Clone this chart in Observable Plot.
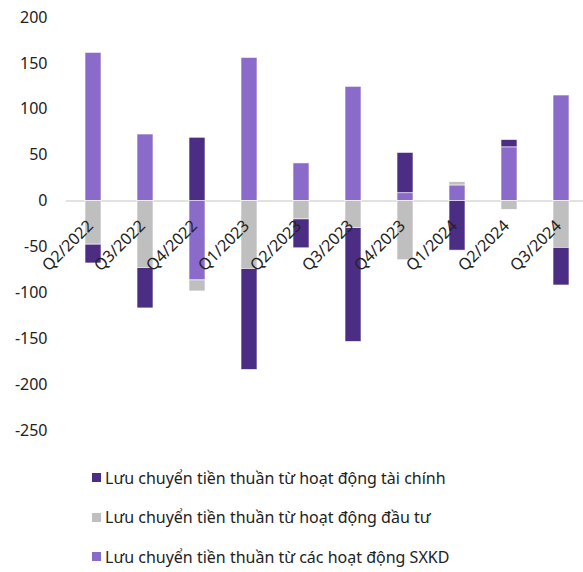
<!DOCTYPE html>
<html>
<head>
<meta charset="utf-8">
<script src="https://cdn.jsdelivr.net/npm/d3@7"></script>
<script src="https://cdn.jsdelivr.net/npm/@observablehq/plot@0.6"></script>
<style>
  body { margin: 0; background: #fff; font-family: "Noto Sans", Lato, sans-serif; }
  #chart { width: 583px; }
  .legend { margin-top: 13px; padding-left: 92px; }
  .legend .item { height: 39.5px; display: flex; align-items: center; font-size: 16px; color: #222; }
  .legend .sw { width: 9px; height: 9px; margin-right: 4px; flex: none; }
</style>
</head>
<body>
<div id="chart"></div>
<script>
const quarters = ["Q2/2022","Q3/2022","Q4/2022","Q1/2023","Q2/2023","Q3/2023","Q4/2023","Q1/2024","Q2/2024","Q3/2024"];
const finance    = [-20.5, -44, 69, -110, -31.5, -124, 44, -54, 8, -41];
const investment = [-47.5, -73, -12, -74, -20, -29.5, -64.5, 3.5, -9.5, -51];
const sxkd       = [161.5, 72.5, -86.5, 156, 41, 124.5, 8.5, 17, 58.5, 115];
const seriesNames = [
  "Lưu chuyển tiền thuần từ hoạt động tài chính",
  "Lưu chuyển tiền thuần từ hoạt động đầu tư",
  "Lưu chuyển tiền thuần từ các hoạt động SXKD"
];
const seriesColors = ["#4b2e83", "#bfbfbf", "#8b6bc9"];
const yTicks = [200, 150, 100, 50, 0, -50, -100, -150, -200, -250];

// stacking order: SXKD, investment, finance
const rows = [];
quarters.forEach((q, i) => {
  rows.push({q, s: seriesNames[2], v: sxkd[i]});
  rows.push({q, s: seriesNames[1], v: investment[i]});
  rows.push({q, s: seriesNames[0], v: finance[i]});
});

const chart = Plot.plot({
  width: 583,
  height: 445,
  marginLeft: 66,
  marginRight: 0,
  marginTop: 17,
  marginBottom: 15,
  style: {fontFamily: "'Noto Sans', Lato, sans-serif", fontSize: "16px", color: "#222"},
  x: {domain: quarters, range: [68.5, 585.5], paddingInner: 0.69, paddingOuter: 0.3, axis: null},
  y: {domain: [-250, 200], axis: null},
  color: {domain: seriesNames, range: seriesColors},
  marks: [
    Plot.ruleY([0], {stroke: "#d9d9d9", strokeWidth: 1.5}),
    Plot.axisY({ticks: yTicks, tickSize: 0, tickPadding: 19, label: null, tickFormat: d => String(d), fontSize: 16}),
    Plot.barY(rows, {x: "q", y: "v", fill: "s", stroke: "#ffffff", strokeWidth: 0.6}),
    Plot.text(quarters, {x: d => d, y: () => 0, text: d => d, rotate: -45, textAnchor: "end", lineAnchor: "middle", dx: -3, dy: 22, fontSize: 16, fill: "#222"})
  ]
});
document.getElementById("chart").appendChild(chart);

const legend = document.createElement("div");
legend.className = "legend";
seriesNames.forEach((name, i) => {
  const item = document.createElement("div");
  item.className = "item";
  const sw = document.createElement("span");
  sw.className = "sw";
  sw.style.background = seriesColors[i];
  const t = document.createElement("span");
  t.textContent = name;
  item.appendChild(sw);
  item.appendChild(t);
  legend.appendChild(item);
});
document.getElementById("chart").appendChild(legend);
</script>
</body>
</html>
